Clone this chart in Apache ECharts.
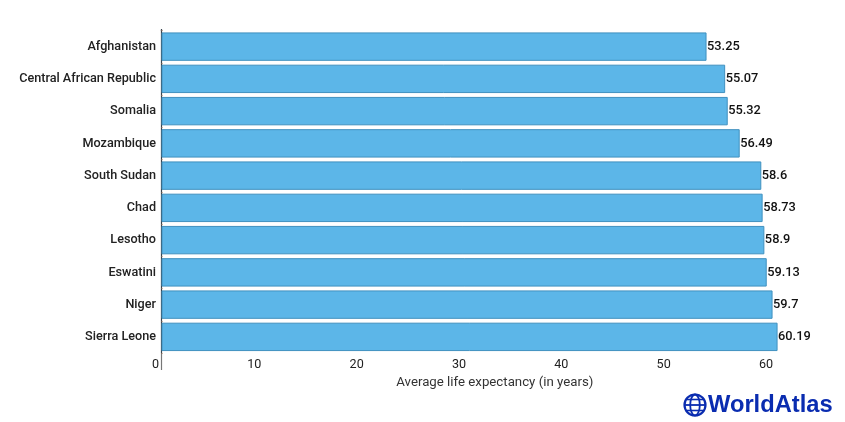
<!DOCTYPE html>
<html><head><meta charset="utf-8">
<style>html,body{margin:0;padding:0;background:#fff}#c{width:845px;height:422px}</style>
<script src="https://cdn.jsdelivr.net/npm/echarts@6/dist/echarts.min.js"></script></head>
<body><div id="c"></div>
<script>
const countries=["Afghanistan","Central African Republic","Somalia","Mozambique","South Sudan","Chad","Lesotho","Eswatini","Niger","Sierra Leone"];
const lifeExpectancy=[53.25,55.07,55.32,56.49,58.6,58.73,58.9,59.13,59.7,60.19];
const xTicks={min:0,max:62,interval:10};
const axisTitle="Average life expectancy (in years)";
const brand="WorldAtlas";
const F="Roboto";
const chart=echarts.init(document.getElementById('c'),null,{renderer:'canvas'});
const blue='#0a2cb0';
chart.setOption({
 animation:false,
 backgroundColor:'#fff',
 grid:{left:161.5,top:30.5,width:634.6,height:322.5,containLabel:false},
 xAxis:{type:'value',min:xTicks.min,max:xTicks.max,interval:xTicks.interval,
  splitLine:{show:false},axisLine:{show:false},axisTick:{show:false},
  axisLabel:{show:true,showMaxLabel:false,color:'#222',fontFamily:F,fontSize:12.6,align:'right',margin:5,
   padding:[0,2.5,0,0]},
  name:axisTitle,nameLocation:'middle',nameGap:23,
  nameTextStyle:{color:'#333',fontFamily:F,fontSize:13.25,padding:[0,0,0,32]}},
 yAxis:{type:'category',inverse:true,data:countries,
  axisLine:{show:true,lineStyle:{color:'#3b4650',width:1.2}},
  axisTick:{show:true,inside:true,length:1,lineStyle:{color:'#a07a60'}},
  axisLabel:{color:'#222',fontFamily:F,fontSize:12.65,fontWeight:500,margin:5.5,padding:[6,0,0,0]}},
 series:[{type:'bar',data:lifeExpectancy,barCategoryGap:'12%',
  itemStyle:{color:'#5CB6E8',borderColor:'#3F90BF',borderWidth:1},
  label:{show:true,position:'right',distance:0.5,color:'#111',fontFamily:F,fontSize:12.8,fontWeight:500,padding:[6,0,0,0]}}],
 graphic:[
  {type:'line',silent:true,shape:{x1:161.5,y1:353,x2:161.5,y2:370},style:{stroke:'#777',lineWidth:1.2}},
  {type:'line',silent:true,shape:{x1:161.5,y1:29,x2:161.5,y2:31},style:{stroke:'#3b4650',lineWidth:1.2}},
  {type:'group',left:682,top:392,children:[
    {type:'circle',shape:{cx:11.5,cy:11.5,r:10.5},style:{fill:'none',stroke:blue,lineWidth:2.2}},
    {type:'ellipse',shape:{cx:11.5,cy:11.5,rx:4.8,ry:10.5},style:{fill:'none',stroke:blue,lineWidth:1.8}},
    {type:'line',shape:{x1:1,y1:11.5,x2:22,y2:11.5},style:{stroke:blue,lineWidth:1.8}},
    {type:'line',shape:{x1:3,y1:6,x2:20,y2:6},style:{stroke:blue,lineWidth:1.6}},
    {type:'line',shape:{x1:3,y1:17,x2:20,y2:17},style:{stroke:blue,lineWidth:1.6}}
  ]},
  {type:'text',left:708,top:393,style:{text:brand,fill:blue,font:'bold 23.7px "Liberation Sans"'}}
 ]
});
</script></body></html>
